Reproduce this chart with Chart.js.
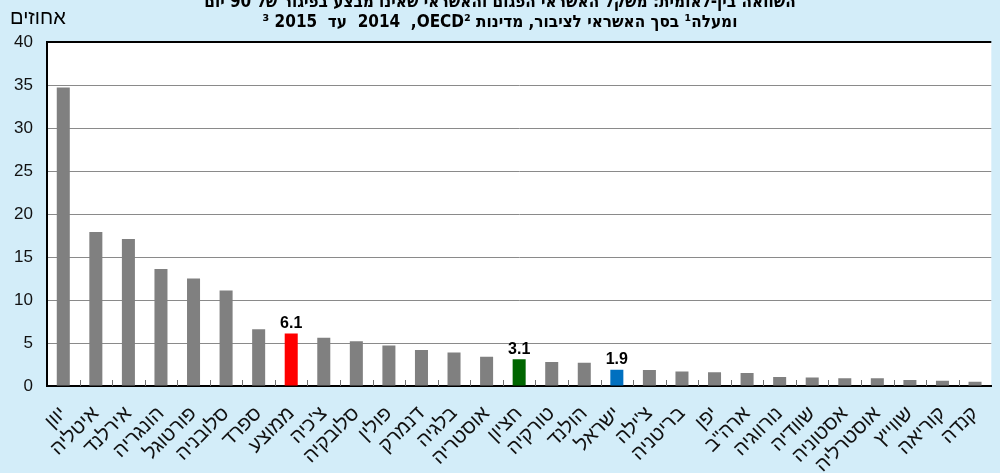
<!DOCTYPE html>
<html>
<head>
<meta charset="utf-8">
<script src="https://cdn.jsdelivr.net/npm/chart.js@4.4.1/dist/chart.umd.min.js"></script>
<style>
  html, body { margin: 0; padding: 0; background: #d3edf9; }
  #wrap { width: 1000px; height: 473px; position: relative; }
</style>
</head>
<body>
<div id="wrap"><canvas id="chart"></canvas></div>
<script>
const categories = [
  "יוון", "איטליה", "אירלנד", "הונגריה", "פורטוגל", "סלובניה", "ספרד",
  "ממוצע", "צ'כיה", "סלובקיה", "פולין", "דנמרק", "בלגיה", "אוסטריה",
  "חציון", "טורקיה", "הולנד", "ישראל", "צ'ילה", "בריטניה", "יפן",
  'ארה"ב', "נורווגיה", "שוודיה", "אסטוניה", "אוסטרליה", "שווייץ",
  "קוריאה", "קנדה",
];
const values = [
  34.7, 17.9, 17.1, 13.6, 12.5, 11.1, 6.6,
  6.1, 5.6, 5.2, 4.7, 4.2, 3.9, 3.4,
  3.1, 2.8, 2.7, 1.9, 1.85, 1.7, 1.6,
  1.5, 1.05, 1.0, 0.9, 0.9, 0.7,
  0.6, 0.5,
];
const yTicks = [0, 5, 10, 15, 20, 25, 30, 35, 40];
const labelledBars = ["ממוצע", "חציון", "ישראל"];
const titleLines = [
  "השוואה בין-לאומית: משקל האשראי הפגום והאשראי שאינו מבצע בפיגור של 90 יום",
  "ומעלה\u00B9 בסך האשראי לציבור, מדינות OECD\u00B2,\u200F  2014  עד  2015 \u00B3",
];
const unitLabel = "אחוזים";

// colours
const barGrey = "#808080";
const highlight = { "ממוצע": "#ff0000", "חציון": "#006600", "ישראל": "#0070c0" };

const plotBackground = {
  id: "plotBackground",
  beforeDraw(chart) {
    const { ctx, chartArea: a } = chart;
    ctx.save();
    ctx.fillStyle = "#ffffff";
    ctx.fillRect(a.left, a.top, a.right - a.left, a.bottom - a.top);
    ctx.restore();
  },
};

// small tick marks between categories, pointing up from the baseline
const betweenTicks = {
  id: "betweenTicks",
  afterDatasetsDraw(chart) {
    const { ctx, chartArea: a } = chart;
    const x = chart.scales.x;
    ctx.save();
    ctx.strokeStyle = "#707070";
    ctx.lineWidth = 1;
    for (let i = 1; i < categories.length; i++) {
      const px = Math.round((x.getPixelForValue(i - 1) + x.getPixelForValue(i)) / 2) + 0.5;
      ctx.beginPath();
      ctx.moveTo(px, a.bottom);
      ctx.lineTo(px, a.bottom - 6);
      ctx.stroke();
    }
    ctx.restore();
  },
};

const valueLabels = {
  id: "valueLabels",
  afterDatasetsDraw(chart) {
    const { ctx } = chart;
    const meta = chart.getDatasetMeta(0);
    ctx.save();
    ctx.fillStyle = "#000";
    ctx.font = "bold 16px 'Liberation Sans', sans-serif";
    ctx.textAlign = "center";
    ctx.textBaseline = "bottom";
    categories.forEach((c, i) => {
      if (!labelledBars.includes(c)) return;
      const bar = meta.data[i];
      ctx.fillText(values[i].toFixed(1), bar.x, bar.y - 2);
    });
    ctx.restore();
  },
};

const titles = {
  id: "titles",
  afterDraw(chart) {
    const { ctx } = chart;
    ctx.save();
    ctx.direction = "rtl";
    ctx.fillStyle = "#000";
    ctx.textAlign = "center";
    ctx.textBaseline = "middle";
    ctx.font = "bold 17px 'Liberation Sans Narrow', 'DejaVu Sans Condensed', 'Liberation Sans', sans-serif";
    ctx.fillText(titleLines[0], 500, 3);
    ctx.fillText(titleLines[1], 500, 23);
    ctx.font = "20px 'Liberation Sans', sans-serif";
    ctx.textAlign = "left";
    ctx.direction = "ltr";
    ctx.fillText(unitLabel, 10, 18);
    ctx.restore();
  },
};

const ctx = document.getElementById("chart").getContext("2d");

new Chart(ctx, {
  type: "bar",
  data: {
    labels: categories,
    datasets: [
      {
        data: values,
        backgroundColor: categories.map((c) => highlight[c] || barGrey),
        barPercentage: 0.4,
        categoryPercentage: 1,
      },
    ],
  },
  options: {
    responsive: true,
    maintainAspectRatio: false,
    animation: false,
    layout: { padding: { top: 42, right: 0, left: 0, bottom: 0 } },
    scales: {
      x: {
        grid: { display: false },
        border: { display: true, color: "#000", width: 2 },
        ticks: {
          autoSkip: false,
          minRotation: 45,
          maxRotation: 45,
          padding: 8,
          color: "#111",
          font: { family: "'Liberation Sans', sans-serif", size: 20 },
        },
        afterFit(scale) {
          scale.height = 87;
        },
      },
      y: {
        min: 0,
        max: 40,
        afterBuildTicks(scale) {
          scale.ticks = yTicks.map((v) => ({ value: v }));
        },
        grid: {
          drawTicks: false,
          color: (c) => (c.tick && c.tick.value === 40 ? "#000" : "#8a8a8a"),
          lineWidth: (c) => (c.tick && c.tick.value === 40 ? 2 : 1),
        },
        border: { display: true, color: "#000", width: 2 },
        ticks: {
          padding: 14,
          color: "#111",
          font: { family: "'Liberation Sans', sans-serif", size: 17 },
        },
        afterFit(scale) {
          scale.width = 47;
        },
      },
    },
    plugins: {
      legend: { display: false },
      tooltip: { enabled: false },
    },
  },
  plugins: [plotBackground, betweenTicks, valueLabels, titles],
});
</script>
</body>
</html>
